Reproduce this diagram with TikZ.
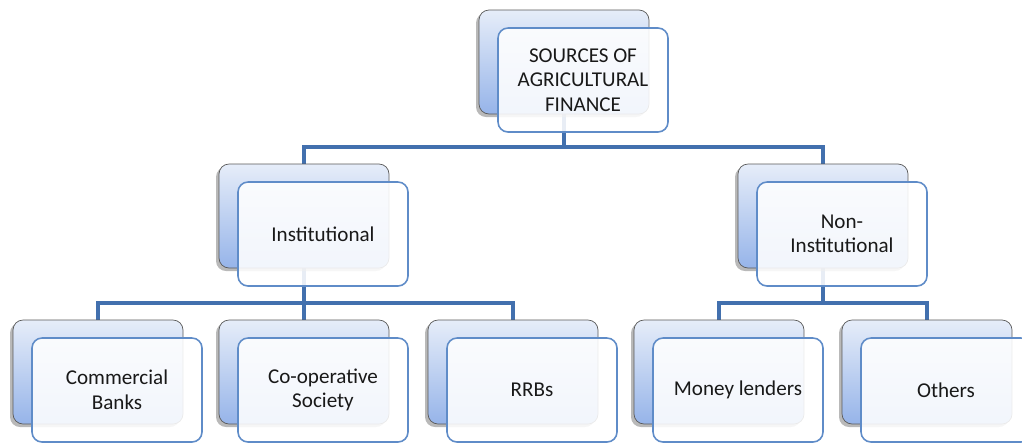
\documentclass[tikz,border=0pt]{standalone}
\usepackage{fontspec}
\setmainfont{Carlito}
\usepackage{xcolor}
\usepackage{tikz}
\usetikzlibrary{positioning,shadows,backgrounds}

\definecolor{linkblue}{RGB}{66,112,174}
\definecolor{rimblue}{RGB}{95,140,200}
\definecolor{backtop}{RGB}{230,237,249}
\definecolor{backbot}{RGB}{150,180,233}

\begin{document}
\begin{tikzpicture}[
    backbox/.style={rectangle, draw=gray!70!black, rounded corners=0.2cm, minimum width=3.4cm, minimum height=2.08cm, top color=backtop, bottom color=backbot, drop shadow={shadow xshift=-0.06cm, shadow yshift=-0.06cm, fill=gray, opacity=0.55}},
    frontbox/.style={rectangle, draw=rimblue, line width=0.9pt, rounded corners=0.2cm, minimum width=3.4cm, minimum height=2.08cm, fill=white, fill opacity=0.88, text opacity=1, text=black!90, align=center, font=\fontsize{12}{14}\selectfont},
    link/.style={draw=linkblue, line width=2.4pt}
]
\useasboundingbox (0,0) rectangle (20.44,-8.88);

% Root
\node[backbox] (srcb) at (11.28,-1.24) {};
\node[frontbox] (src) at ([xshift=0.38cm,yshift=-0.36cm]srcb.center) {SOURCES OF\\AGRICULTURAL\\FINANCE};

% Second level
\node[backbox] (instb) at (6.08,-4.32) {};
\node[frontbox] (inst) at ([xshift=0.38cm,yshift=-0.36cm]instb.center) {Institutional};
\node[backbox] (noninstb) at (16.46,-4.32) {};
\node[frontbox] (noninst) at ([xshift=0.38cm,yshift=-0.36cm]noninstb.center) {Non-\\Institutional};

% Institutional sources
\node[backbox] (bankb) at (1.96,-7.44) {};
\node[frontbox] (bank) at ([xshift=0.38cm,yshift=-0.36cm]bankb.center) {Commercial\\Banks};
\node[backbox] (coopb) at (6.08,-7.44) {};
\node[frontbox] (coop) at ([xshift=0.38cm,yshift=-0.36cm]coopb.center) {Co-operative\\Society};
\node[backbox] (rrbb) at (10.26,-7.44) {};
\node[frontbox] (rrb) at ([xshift=0.38cm,yshift=-0.36cm]rrbb.center) {RRBs};

% Non-institutional sources
\node[backbox] (lenderb) at (14.38,-7.44) {};
\node[frontbox] (lender) at ([xshift=0.38cm,yshift=-0.36cm]lenderb.center) {Money lenders};
\node[backbox] (otherb) at (18.54,-7.44) {};
\node[frontbox] (other) at ([xshift=0.38cm,yshift=-0.36cm]otherb.center) {Others};

% Tree lines
\begin{scope}[on background layer]
\draw[link] (srcb.south) -- ++(0,-0.66) -| (instb.north);
\draw[link] (srcb.south) -- ++(0,-0.66) -| (noninstb.north);
\draw[link] (instb.south) -- ++(0,-0.7) -| (bankb.north);
\draw[link] (instb.south) -- ++(0,-0.7) -| (coopb.north);
\draw[link] (instb.south) -- ++(0,-0.7) -| (rrbb.north);
\draw[link] (noninstb.south) -- ++(0,-0.7) -| (lenderb.north);
\draw[link] (noninstb.south) -- ++(0,-0.7) -| (otherb.north);
\end{scope}

\end{tikzpicture}
\end{document}
